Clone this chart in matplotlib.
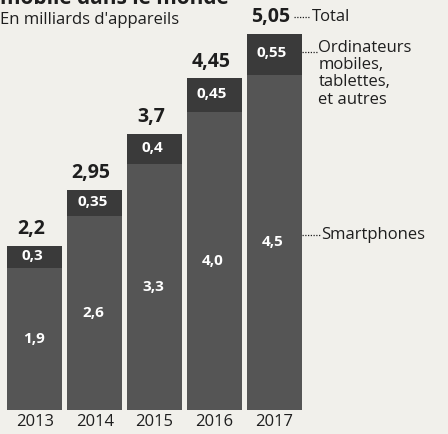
import matplotlib
matplotlib.use("Agg")
import matplotlib.pyplot as plt

years = ["2013", "2014", "2015", "2016", "2017"]
smartphones = [1.9, 2.6, 3.3, 4.0, 4.5]
autres = [0.3, 0.35, 0.4, 0.45, 0.55]
totals = [2.2, 2.95, 3.7, 4.45, 5.05]
total_labels = ["2,2", "2,95", "3,7", "4,45", "5,05"]
smart_labels = ["1,9", "2,6", "3,3", "4,0", "4,5"]
autres_labels = ["0,3", "0,35", "0,4", "0,45", "0,55"]

plt.rcParams['font.family'] = ['Open Sans', 'DejaVu Sans']
bg = "#f1f0eb"
c_smart = "#555555"
c_autres = "#3a3a3a"
txt = "#1e1e1e"

fig = plt.figure(figsize=(4.48, 4.34), dpi=100, facecolor=bg)
ax = fig.add_axes([5/448, 24/434, 299/448, 410/434])
ax.set_facecolor(bg)
x = list(range(len(years)))
w = 0.92
ax.bar(x, smartphones, width=w, color=c_smart)
ax.bar(x, autres, width=w, bottom=smartphones, color=c_autres)
ax.set_xlim(-0.5, 4.5)
ax.set_ylim(0, 5.5)
for s in ax.spines.values():
    s.set_visible(False)
ax.set_yticks([])
ax.set_xticks(x)
ax.set_xticklabels(years, fontsize=12, color=txt)
ax.tick_params(axis='x', length=0, pad=3)

for i in x:
    ax.text(i - 0.06, totals[i] + 0.09, total_labels[i], ha='center', va='bottom',
            fontsize=14, fontweight='bold', color=txt)
    ax.text(i - 0.04, smartphones[i] + autres[i] / 2 + 0.02, autres_labels[i], ha='center', va='center',
            fontsize=11, fontweight='bold', color='white')
    ax.text(i - 0.02, smartphones[i] / 2, smart_labels[i], ha='center', va='center',
            fontsize=11, fontweight='bold', color='white')

dot = dict(color=txt, lw=0.9, linestyle=(0, (1, 1.2)), clip_on=False)
ax.plot([4.33, 4.6], [5.27, 5.27], **dot)
ax.text(4.64, 5.27, "Total", ha='left', va='center', fontsize=12, color=txt, clip_on=False)

ax.plot([4.46, 4.72], [4.8, 4.8], **dot)
ax.text(4.74, 4.97, "Ordinateurs\nmobiles,\ntablettes,\net autres", ha='left', va='top',
        fontsize=12, color=txt, linespacing=1.12, clip_on=False)

ax.plot([4.46, 4.76], [smartphones[4] / 2 + 0.1] * 2, **dot)
ax.text(4.78, smartphones[4] / 2 + 0.1, "Smartphones", ha='left', va='center',
        fontsize=12, color=txt, clip_on=False)

fig.text(0.0, 1 - 20/434, "En milliards d'appareils", ha='left', va='center',
         fontsize=12, color=txt)
fig.text(0.0, 1.004, "mobile dans le monde", ha='left', va='center',
         fontsize=15, fontweight='bold', color=txt)

fig.savefig("out.png", dpi=100, facecolor=bg)
